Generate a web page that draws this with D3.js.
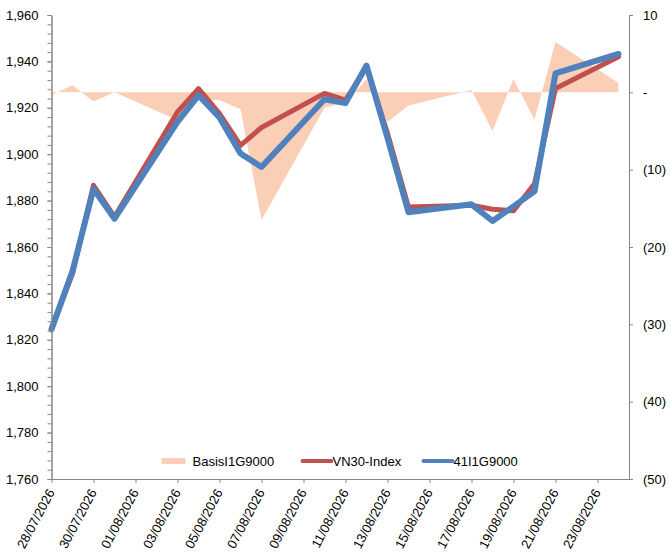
<!DOCTYPE html>
<html>
<head>
<meta charset="utf-8">
<script src="https://cdn.jsdelivr.net/npm/d3@7/dist/d3.min.js"></script>
<style>
  body { margin: 0; background: #ffffff; }
  text { font-family: Arial, "Liberation Sans", sans-serif; }
</style>
</head>
<body>
<div id="basis-chart"></div>
<script>
/*
*   VN30-Index vs the 41I1G9000 future, with the basis as an area on the right axis
*/

//Trading days (weekends are skipped, the date axis keeps the gaps)
var dates = ["28/07/2026", "29/07/2026", "30/07/2026", "31/07/2026", "03/08/2026",
             "04/08/2026", "05/08/2026", "06/08/2026", "07/08/2026", "10/08/2026",
             "11/08/2026", "12/08/2026", "13/08/2026", "14/08/2026", "17/08/2026",
             "18/08/2026", "19/08/2026", "20/08/2026", "21/08/2026", "24/08/2026"];

var vn30 = [1825, 1848.5, 1886.6, 1873, 1918.2, 1928.3, 1917.5, 1903.8, 1911.5, 1926.2,
            1923.3, 1937.5, 1909, 1877.2, 1878, 1876.3, 1875.6, 1887.3, 1928.3, 1942];

var future = [1824.5, 1849.6, 1885.1, 1872.2, 1913.9, 1925.4, 1915.8, 1900.3, 1894.5, 1923.7,
              1922, 1938.2, 1907, 1875, 1878.4, 1871.2, 1877.5, 1884, 1934.8, 1943.2];

var basis = [-0.3, 0.9, -1.2, 0, -3.6, -1.0, -1.0, -2.2, -16.5, -2.0,
             -1.3, 1.7, -3.8, -1.7, 0.3, -5.0, 1.7, -3.5, 6.5, 1.2];

var tickLabels = ["28/07/2026", "30/07/2026", "01/08/2026", "03/08/2026", "05/08/2026",
                  "07/08/2026", "09/08/2026", "11/08/2026", "13/08/2026", "15/08/2026",
                  "17/08/2026", "19/08/2026", "21/08/2026", "23/08/2026"];

var leftTicks = [1760, 1780, 1800, 1820, 1840, 1860, 1880, 1900, 1920, 1940, 1960];
var rightTicks = [10, 0, -10, -20, -30, -40, -50];

var seriesNames = ["BasisI1G9000", "VN30-Index", "41I1G9000"];

//Standard Dimension and Margin setup
var margin = { top: 15, right: 42, bottom: 76, left: 51.5 },
width = 671 - margin.left - margin.right,
height = 555 - margin.top - margin.bottom;

var axisColor = "#868686";

var svg = d3.select("#basis-chart")
      .append("svg")
      .attr("width", width + margin.left + margin.right)
      .attr("height", height + margin.top + margin.bottom)
      .append("g")
      .attr("transform", `translate(${margin.left}, ${margin.top})`);

var parse = d3.utcParse("%d/%m/%Y");
var days = dates.map(parse);

//date axis runs half a day past the last session
var x = d3.scaleUtc()
  .domain([days[0], d3.utcHour.offset(days[days.length - 1], 12)])
  .range([0, width]);

var yLeft = d3.scaleLinear().domain([1760, 1960]).range([height, 0]);
var yRight = d3.scaleLinear().domain([-50, 10]).range([height, 0]);

//Basis area, drawn first so the lines sit on top
var basisArea = d3.area()
  .x((d, i) => x(days[i]))
  .y0(yRight(0))
  .y1(d => yRight(d));

svg.append("path")
  .datum(basis)
  .attr("d", basisArea)
  .attr("fill", "#fbcfb6");

var priceLine = d3.line()
  .x((d, i) => x(days[i]))
  .y(d => yLeft(d));

svg.append("path")
  .datum(vn30)
  .attr("d", priceLine)
  .attr("fill", "none")
  .attr("stroke", "#c0504d")
  .attr("stroke-width", 5)
  .attr("stroke-linejoin", "round")
  .attr("stroke-linecap", "round");

svg.append("path")
  .datum(future)
  .attr("d", priceLine)
  .attr("fill", "none")
  .attr("stroke", "#4f81bd")
  .attr("stroke-width", 6)
  .attr("stroke-linejoin", "round")
  .attr("stroke-linecap", "round");

//Left axis with minor ticks every 4 points
svg.append("g")
  .attr("class", "minor")
  .call(d3.axisLeft(yLeft).tickValues(d3.range(1760, 1961, 4)).tickSize(4).tickSizeOuter(0).tickFormat(""));

svg.append("g")
  .attr("class", "left-axis")
  .call(d3.axisLeft(yLeft).tickValues(leftTicks).tickSize(4).tickSizeOuter(0).tickPadding(9)
    .tickFormat(d3.format(",")));

//Right axis, accounting style labels
svg.append("g")
  .attr("class", "right-axis")
  .attr("transform", `translate(${width}, 0)`)
  .call(d3.axisRight(yRight).tickValues(rightTicks).tickSize(4).tickSizeOuter(0).tickPadding(10)
    .tickFormat(d => d > 0 ? d : (d == 0 ? "-" : `(${-d})`)));

//Bottom date axis, labels every 2 days
var xAxis = svg.append("g")
  .attr("transform", `translate(0, ${height})`)
  .call(d3.axisBottom(x).tickValues(tickLabels.map(parse)).tickSize(4).tickSizeOuter(0)
    .tickFormat(d3.utcFormat("%d/%m/%Y")));

xAxis.selectAll("text")
  .attr("y", 0)
  .attr("dy", "0.35em")
  .attr("transform", "translate(-1, 11) rotate(-62)")
  .style("text-anchor", "end");

svg.selectAll(".domain, .tick line").attr("stroke", axisColor);
svg.selectAll(".tick text")
  .attr("fill", "#000000")
  .style("font-size", "13px")
  .style("font-family", "Arial, 'Liberation Sans', sans-serif");

//Legend along the bottom of the plot
var legend = svg.append("g")
  .attr("transform", `translate(0, ${height - 18})`);

var legendX = [110, 251, 372];

legend.append("rect")
  .attr("x", legendX[0]).attr("y", -3)
  .attr("width", 24).attr("height", 6)
  .attr("fill", "#fbcfb6");

legend.append("line")
  .attr("x1", legendX[1]).attr("x2", legendX[1] + 29)
  .attr("stroke", "#c0504d").attr("stroke-width", 4).attr("stroke-linecap", "round");

legend.append("line")
  .attr("x1", legendX[2]).attr("x2", legendX[2] + 29)
  .attr("stroke", "#4f81bd").attr("stroke-width", 4).attr("stroke-linecap", "round");

legend.selectAll(".legend-text")
  .data(seriesNames)
  .join("text")
  .attr("class", "legend-text")
  .attr("x", (d, i) => legendX[i] + (i == 0 ? 31 : 30))
  .attr("dy", "0.35em")
  .style("font-size", "13px")
  .attr("fill", "#000000")
  .text(d => d);
</script>
</body>
</html>
